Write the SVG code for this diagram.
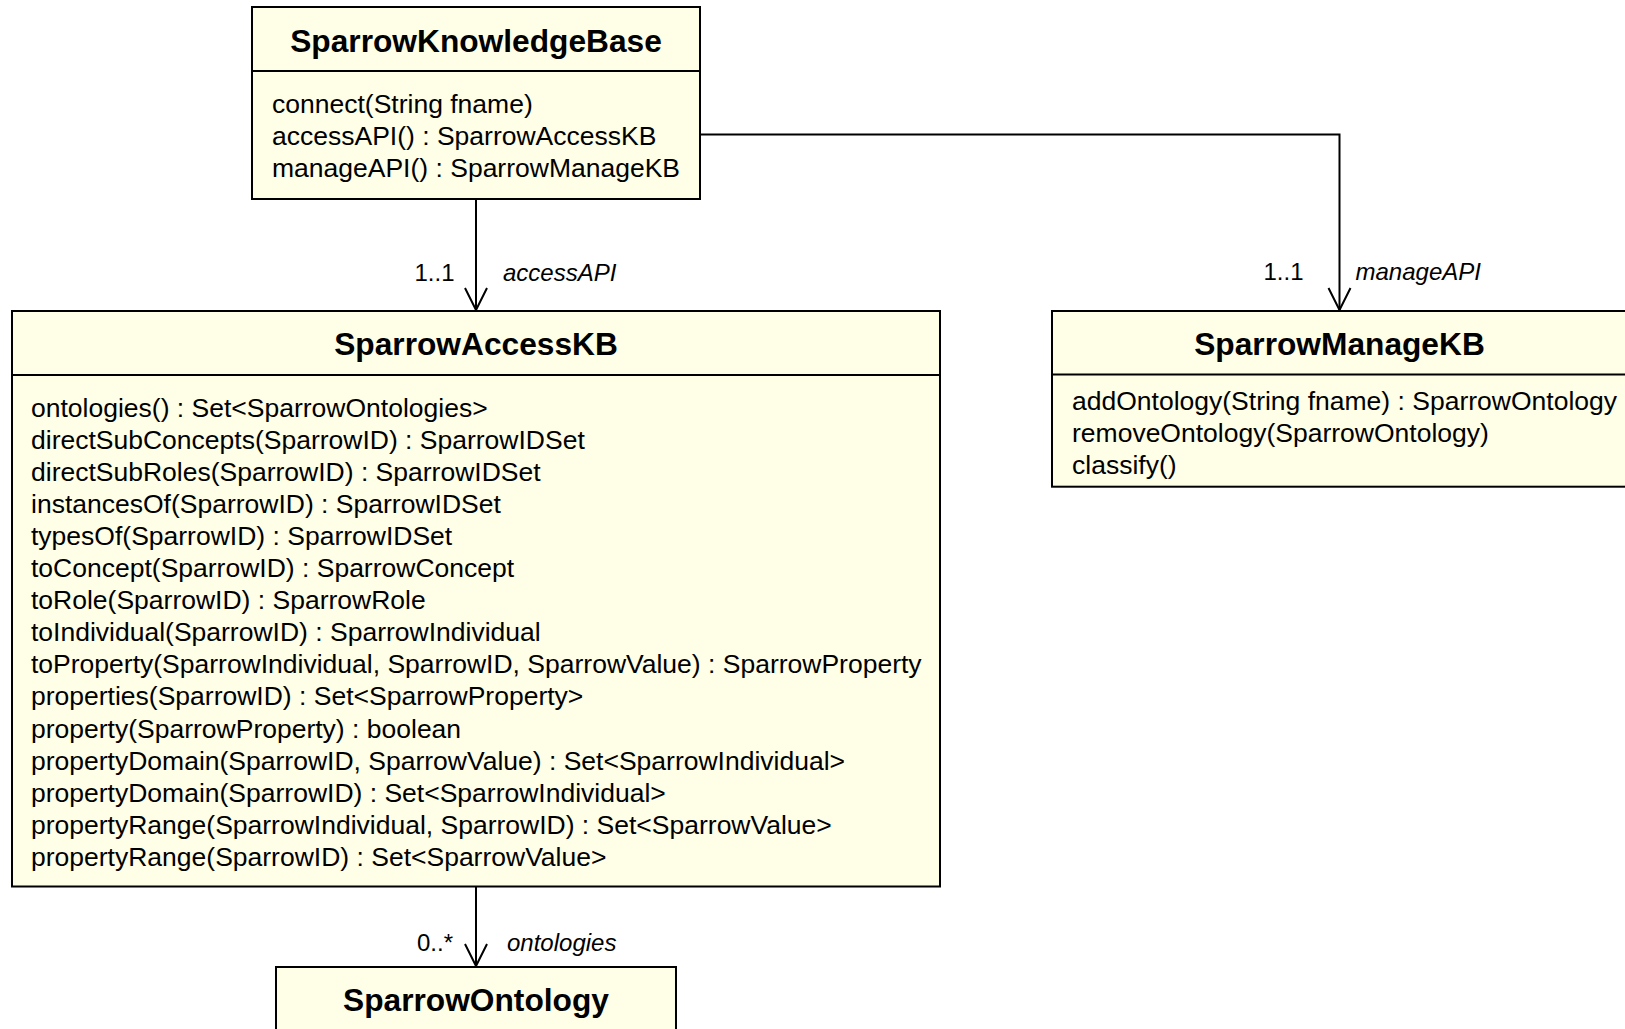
<svg xmlns="http://www.w3.org/2000/svg" width="1625" height="1029" viewBox="0 0 1625 1029">
<style>
.box{fill:#FFFFE8;stroke:#000;stroke-width:2}
.div{stroke:#000;stroke-width:2}
.title{font-family:"Liberation Sans",Arial,sans-serif;font-weight:bold;font-size:31.7px;fill:#000;text-anchor:middle}
.op{font-family:"Liberation Sans",Arial,sans-serif;font-size:26.5px;fill:#000}
.lbl{font-family:"Liberation Sans",Arial,sans-serif;font-size:24px;fill:#000}
.role{font-style:italic}
.conn{fill:none;stroke:#000;stroke-width:2}
</style>
<defs>
<marker id="open" viewBox="-2 -2 28 28" markerUnits="userSpaceOnUse" markerWidth="28" markerHeight="28" refX="22" refY="11" orient="auto" overflow="visible">
<path d="M0,0 L22,11 L0,22" fill="none" stroke="#000" stroke-width="2"/>
</marker>
</defs>
<rect width="1625" height="1029" fill="#fff"/>
<g id="connectors">
<path class="conn" d="M476,199 V310" marker-end="url(#open)"/>
<path class="conn" d="M700,134.5 H1339.5 V310" marker-end="url(#open)"/>
<path class="conn" d="M476,886.5 V966" marker-end="url(#open)"/>
<text class="lbl" x="414.5" y="280.5">1..1</text>
<text class="lbl role" x="503" y="280.5">accessAPI</text>
<text class="lbl" x="1263.5" y="280">1..1</text>
<text class="lbl role" x="1355.5" y="280">manageAPI</text>
<text class="lbl" x="417" y="951">0..*</text>
<text class="lbl role" x="507" y="951">ontologies</text>
</g>
<g id="SparrowKnowledgeBase">
<rect class="box" x="252" y="7" width="448" height="192"/>
<line class="div" x1="252" y1="71" x2="700" y2="71"/>
<text class="title" x="476" y="52">SparrowKnowledgeBase</text>
<text class="op" x="272" y="113">connect(String fname)</text>
<text class="op" x="272" y="145">accessAPI() : SparrowAccessKB</text>
<text class="op" x="272" y="177">manageAPI() : SparrowManageKB</text>
</g>
<g id="SparrowAccessKB">
<rect class="box" x="12" y="311" width="928" height="575.5"/>
<line class="div" x1="12" y1="375" x2="940" y2="375"/>
<text class="title" x="476" y="355">SparrowAccessKB</text>
<text class="op" x="31">
<tspan x="31" y="416.5">ontologies() : Set&lt;SparrowOntologies&gt;</tspan>
<tspan x="31" y="448.6">directSubConcepts(SparrowID) : SparrowIDSet</tspan>
<tspan x="31" y="480.7">directSubRoles(SparrowID) : SparrowIDSet</tspan>
<tspan x="31" y="512.8">instancesOf(SparrowID) : SparrowIDSet</tspan>
<tspan x="31" y="544.9">typesOf(SparrowID) : SparrowIDSet</tspan>
<tspan x="31" y="577">toConcept(SparrowID) : SparrowConcept</tspan>
<tspan x="31" y="609.1">toRole(SparrowID) : SparrowRole</tspan>
<tspan x="31" y="641.2">toIndividual(SparrowID) : SparrowIndividual</tspan>
<tspan x="31" y="673.3">toProperty(SparrowIndividual, SparrowID, SparrowValue) : SparrowProperty</tspan>
<tspan x="31" y="705.4">properties(SparrowID) : Set&lt;SparrowProperty&gt;</tspan>
<tspan x="31" y="737.5">property(SparrowProperty) : boolean</tspan>
<tspan x="31" y="769.6">propertyDomain(SparrowID, SparrowValue) : Set&lt;SparrowIndividual&gt;</tspan>
<tspan x="31" y="801.7">propertyDomain(SparrowID) : Set&lt;SparrowIndividual&gt;</tspan>
<tspan x="31" y="833.8">propertyRange(SparrowIndividual, SparrowID) : Set&lt;SparrowValue&gt;</tspan>
<tspan x="31" y="865.9">propertyRange(SparrowID) : Set&lt;SparrowValue&gt;</tspan>
</text>
</g>
<g id="SparrowManageKB">
<rect class="box" x="1052" y="311" width="600" height="175.7"/>
<line class="div" x1="1052" y1="374.5" x2="1652" y2="374.5"/>
<text class="title" x="1339.5" y="355">SparrowManageKB</text>
<text class="op" x="1072" y="409.5">addOntology(String fname) : SparrowOntology</text>
<text class="op" x="1072" y="441.5">removeOntology(SparrowOntology)</text>
<text class="op" x="1072" y="473.5">classify()</text>
</g>
<g id="SparrowOntology">
<rect class="box" x="276" y="967" width="400" height="100"/>
<text class="title" x="476" y="1011">SparrowOntology</text>
</g>
</svg>
